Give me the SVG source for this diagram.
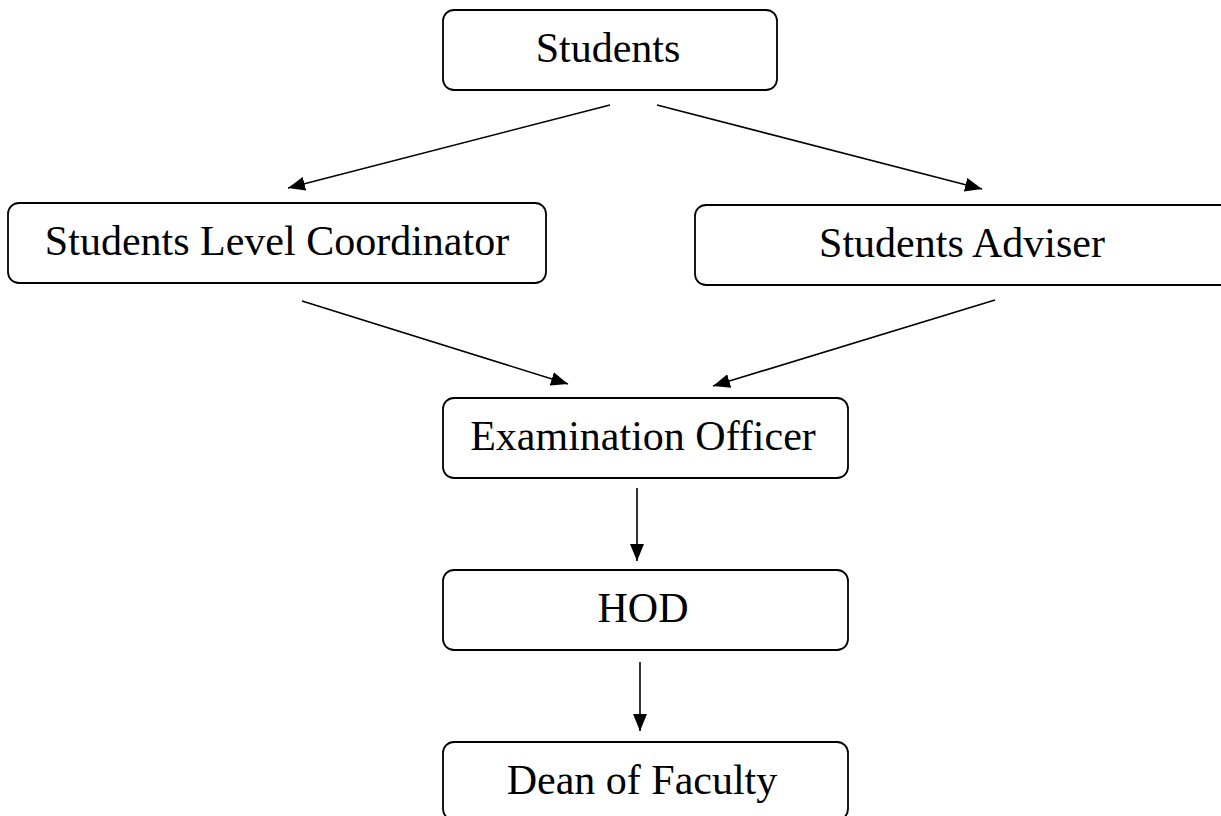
<svg xmlns="http://www.w3.org/2000/svg" width="1221" height="816" viewBox="0 0 1221 816">
  <style>
    .box { fill: #ffffff; stroke: #000000; stroke-width: 1.8; }
    .lbl { font-family: "Liberation Serif", "Times New Roman", serif; font-size: 42px; fill: #000000; text-anchor: middle; }
    .edge { stroke: #000000; stroke-width: 1.6; fill: none; marker-end: url(#arrow); }
  </style>
  <defs>
    <marker id="arrow" markerUnits="userSpaceOnUse" markerWidth="18" markerHeight="14" refX="17" refY="7" orient="auto">
      <path d="M0,0 L17,7 L0,14 Z" fill="#000000"/>
    </marker>
  </defs>
  <rect x="0" y="0" width="1221" height="816" fill="#ffffff"/>

  <g id="connectors">
    <line class="edge" x1="610" y1="105" x2="288" y2="188"/>
    <line class="edge" x1="657" y1="105" x2="982" y2="189"/>
    <line class="edge" x1="302" y1="301" x2="568" y2="384"/>
    <line class="edge" x1="995" y1="300" x2="713" y2="386"/>
    <line class="edge" x1="637" y1="488" x2="637" y2="561"/>
    <line class="edge" x1="640" y1="662" x2="640" y2="731"/>
  </g>

  <g id="node-students">
    <rect class="box" x="443" y="10" width="334" height="80" rx="11" ry="11"/>
    <text class="lbl" x="608" y="62">Students</text>
  </g>
  <g id="node-slc">
    <rect class="box" x="8" y="203" width="538" height="80" rx="11" ry="11"/>
    <text class="lbl" x="277" y="255">Students Level Coordinator</text>
  </g>
  <g id="node-adviser">
    <rect class="box" x="695" y="205" width="540" height="80" rx="11" ry="11"/>
    <text class="lbl" x="962" y="257">Students Adviser</text>
  </g>
  <g id="node-exam">
    <rect class="box" x="443" y="398" width="405" height="80" rx="11" ry="11"/>
    <text class="lbl" x="643" y="450">Examination Officer</text>
  </g>
  <g id="node-hod">
    <rect class="box" x="443" y="570" width="405" height="80" rx="11" ry="11"/>
    <text class="lbl" x="643" y="622">HOD</text>
  </g>
  <g id="node-dean">
    <rect class="box" x="443" y="742" width="405" height="78" rx="11" ry="11"/>
    <text class="lbl" x="642" y="794">Dean of Faculty</text>
  </g>
</svg>
